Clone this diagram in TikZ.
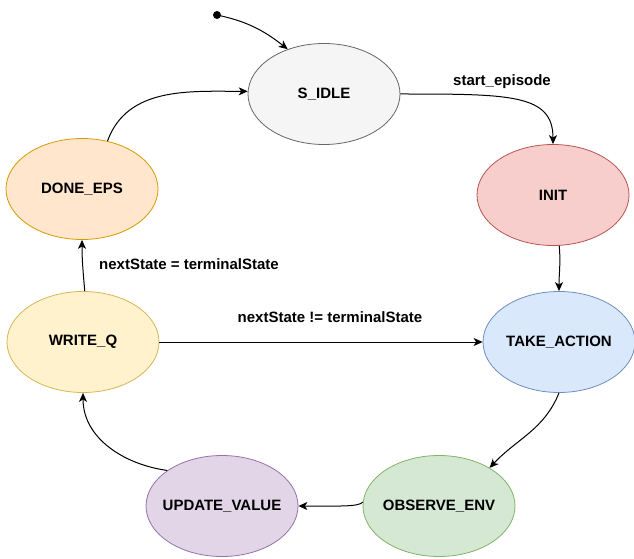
\documentclass[tikz,border=0pt]{standalone}
\usepackage{fontspec}
\setmainfont{Liberation Sans}
\usetikzlibrary{shapes.geometric,arrows.meta}

\definecolor{idleFill}{HTML}{F5F5F5}\definecolor{idleLine}{HTML}{666666}
\definecolor{initFill}{HTML}{F8CECC}\definecolor{initLine}{HTML}{B85450}
\definecolor{takeFill}{HTML}{DAE8FC}\definecolor{takeLine}{HTML}{6C8EBF}
\definecolor{obsFill}{HTML}{D5E8D4}\definecolor{obsLine}{HTML}{82B366}
\definecolor{updFill}{HTML}{E1D5E7}\definecolor{updLine}{HTML}{9673A6}
\definecolor{wrFill}{HTML}{FFF2CC}\definecolor{wrLine}{HTML}{D6B656}
\definecolor{doneFill}{HTML}{FFE6CC}\definecolor{doneLine}{HTML}{D79B00}

% state text is boxed at zero width so every ellipse keeps the same size
\newcommand{\stxt}[1]{\makebox[0pt]{#1}}

\tikzset{
  state/.style={ellipse, draw, line width=0.8pt, minimum width=152pt,
    minimum height=101pt, inner sep=0pt,
    font=\fontsize{15}{18}\selectfont\bfseries},
  trans/.style={line width=1pt, -{Stealth[length=9pt,width=8pt,inset=2.5pt]}},
  lbl/.style={font=\fontsize{15}{18}\selectfont\bfseries, inner sep=0pt}
}

\begin{document}
\begin{tikzpicture}[x=1pt,y=1pt]
  \useasboundingbox (0,0) rectangle (634,558);

  % states
  \node[state, fill=idleFill, draw=idleLine] (sidle) at (324,464) {\stxt{S\_IDLE}};
  \node[state, fill=initFill, draw=initLine] (init) at (553,363) {\stxt{INIT}};
  \node[state, fill=takeFill, draw=takeLine] (take) at (559,216) {\stxt{TAKE\_ACTION}};
  \node[state, fill=obsFill, draw=obsLine] (obs) at (439,52) {\stxt{OBSERVE\_ENV}};
  \node[state, fill=updFill, draw=updLine] (upd) at (222,52) {\stxt{UPDATE\_VALUE}};
  \node[state, fill=wrFill, draw=wrLine] (write) at (83,216) {\stxt{WRITE\_Q}};
  \node[state, fill=doneFill, draw=doneLine] (done) at (82,369) {\stxt{DONE\_EPS}};

  % initial marker
  \fill (217,543) circle (4pt) coordinate (start);
  \draw[trans] (start) to[out=-12, in=142] (sidle.129);

  % transitions
  \draw[trans] (sidle.east) .. controls +(110,0) and +(0,50) .. (init.north);
  \node[lbl] (lstart) at (502,476) {start\_episode};

  \draw[trans] (init.-83) to[out=-85, in=90] (take.north);
  \draw[trans] (take.south) to[out=-112, in=47] (obs.37);
  \draw[trans] (obs.177) .. controls +(-4,-5) and +(40,0) .. (upd.east);
  \draw[trans] (upd.147.5) to[out=172, in=-90] (write.south);
  \draw[trans] (write.88) to[out=95, in=-90] (done.south);
  \node[lbl] (lterm) at (189,294) {nextState = terminalState};

  \draw[trans] (write.east) -- (take.west);
  \node[lbl] (lnext) at (330,241) {nextState != terminalState};

  \draw[trans] (done.62) to[out=70, in=180] (sidle.178);
\end{tikzpicture}
\end{document}
